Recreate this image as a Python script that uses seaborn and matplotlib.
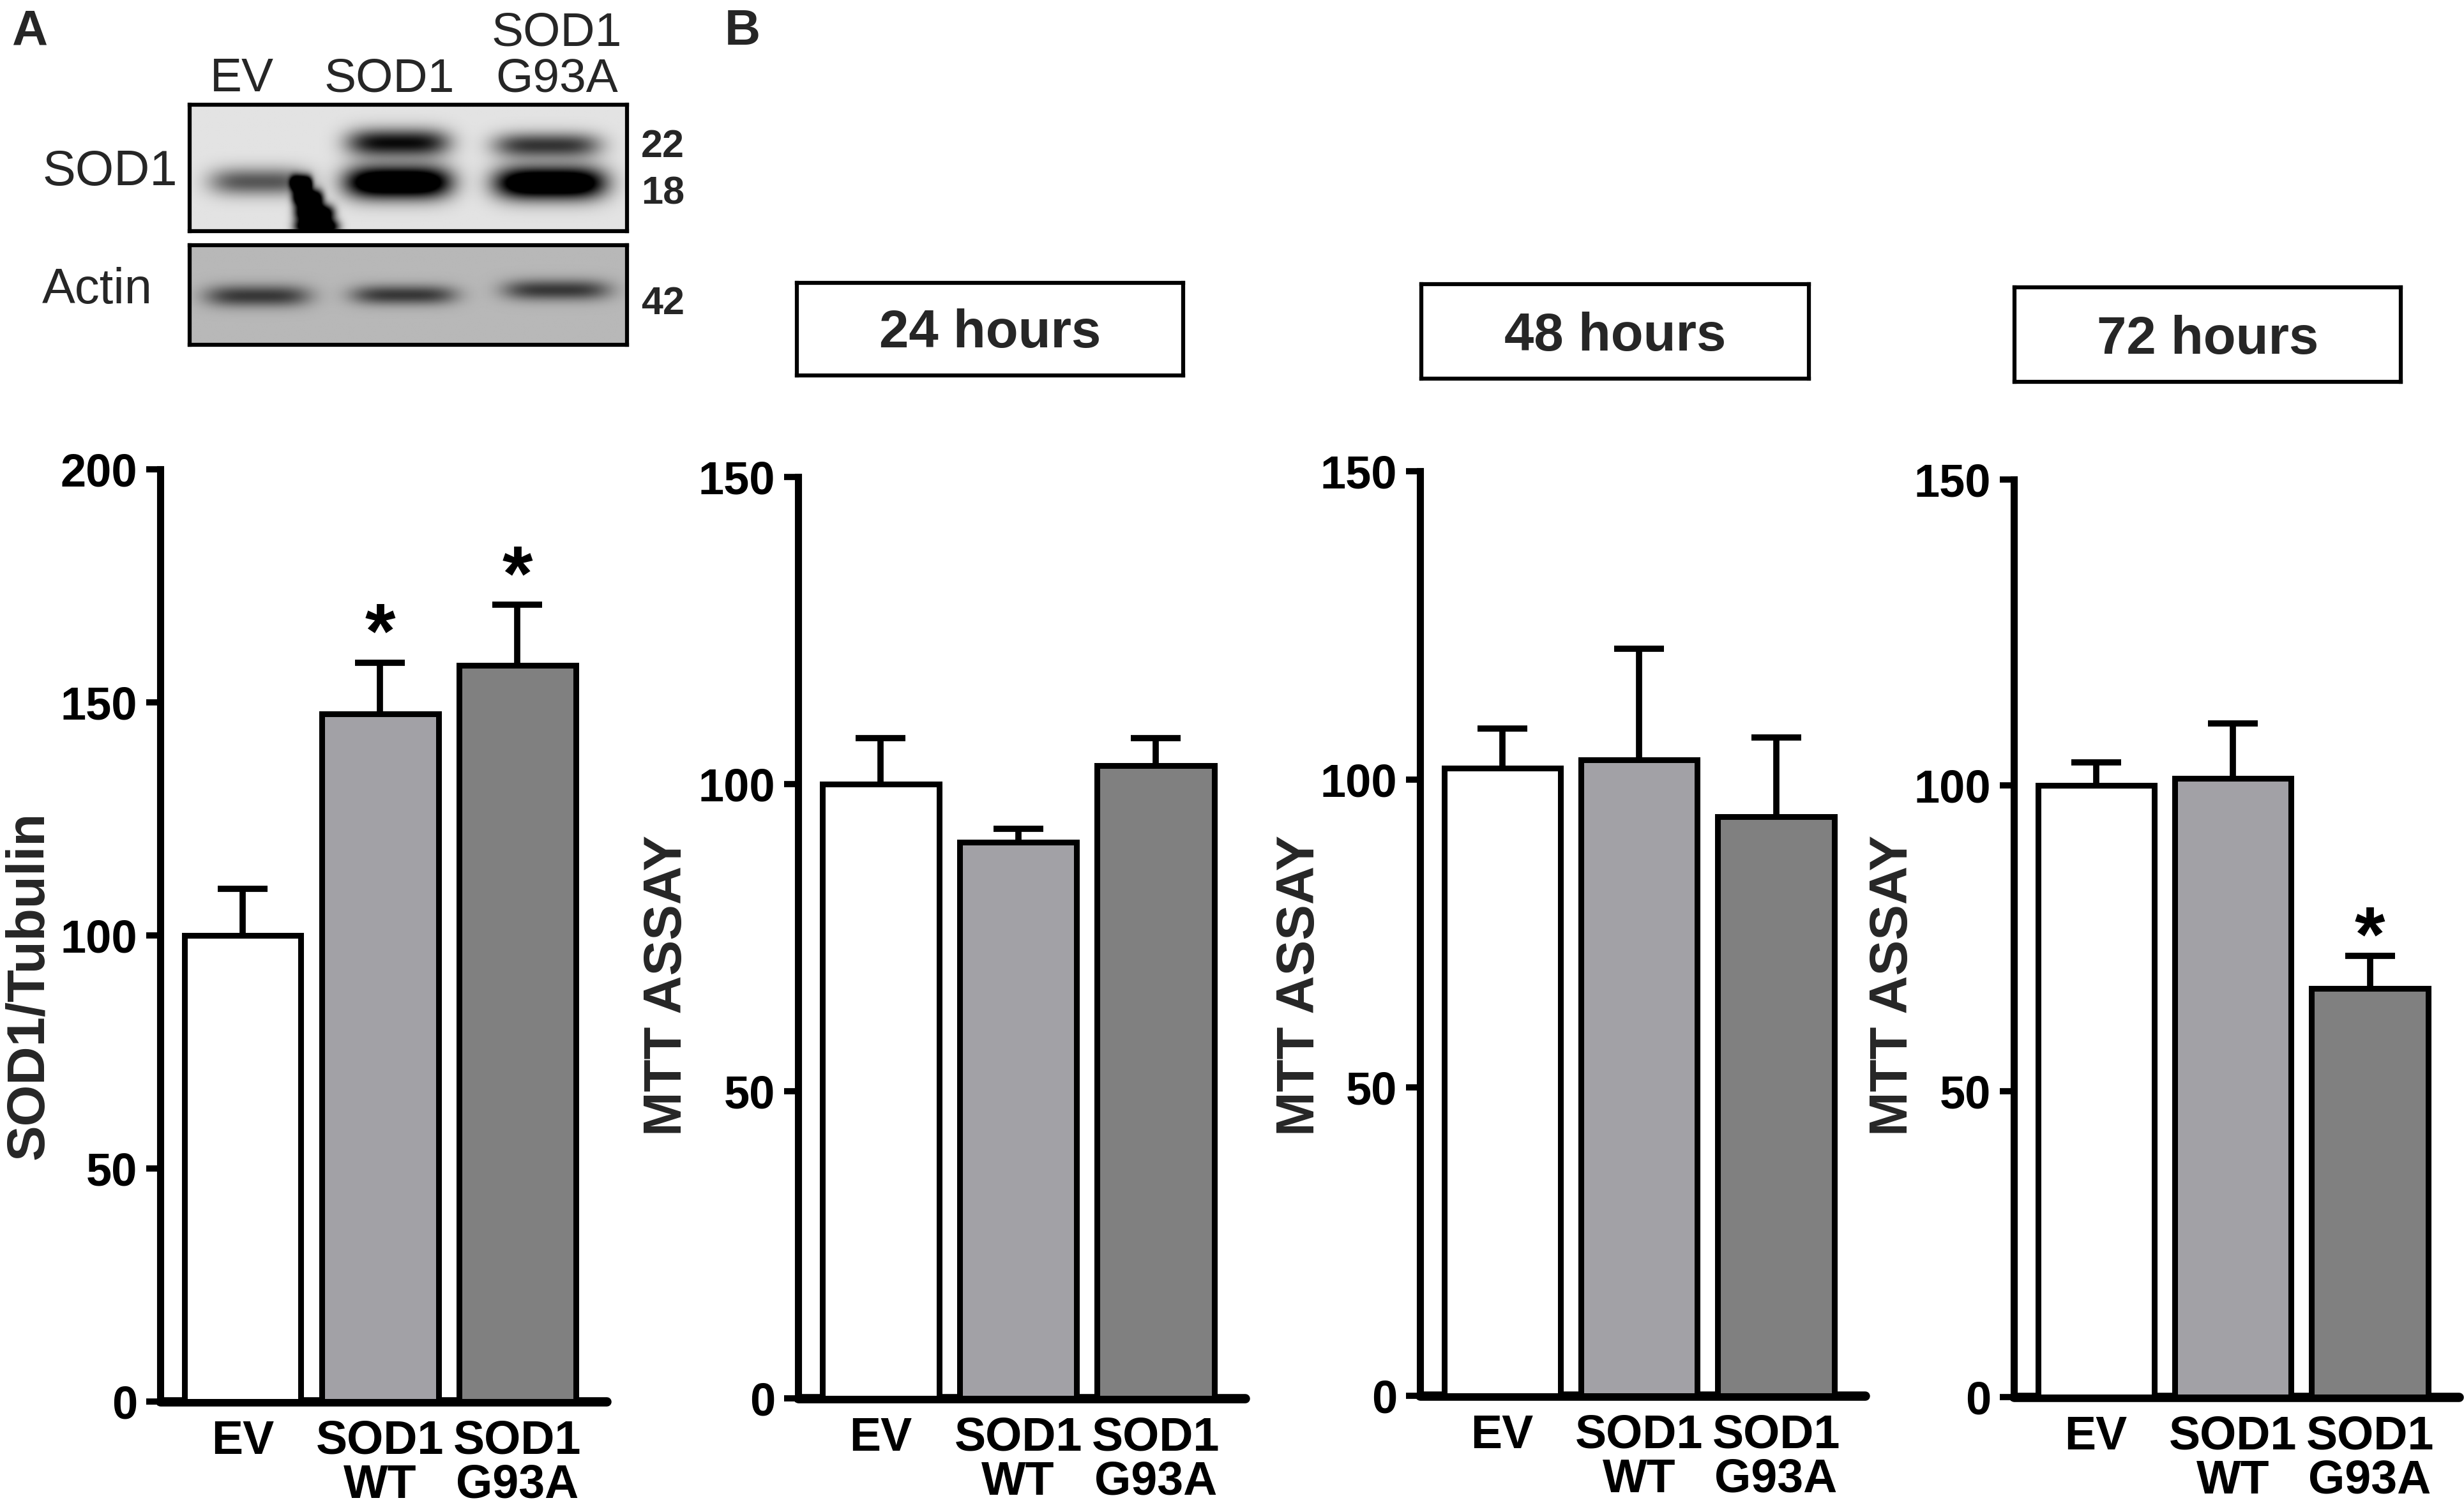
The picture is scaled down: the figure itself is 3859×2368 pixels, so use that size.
import numpy as np
import pandas as pd
import matplotlib
matplotlib.use("Agg")
import matplotlib.pyplot as plt
import seaborn as sns

sns.set_theme(style="ticks")
plt.rcParams['font.family'] = ['Liberation Sans', 'DejaVu Sans']

# --- data ---
groups = ['EV', 'SOD1\nWT', 'SOD1\nG93A']
bar_colors = ['#ffffff', '#a2a1a6', '#808080']

sod1_mean = [100.0, 147.6, 158.0]
sod1_sem = [10.0, 10.9, 12.9]
sod1_star = [False, True, True]

mtt_24_mean = [100.0, 90.5, 103.0]
mtt_24_sem = [7.5, 2.2, 4.5]
mtt_48_mean = [101.8, 103.2, 94.0]
mtt_48_sem = [6.5, 18.0, 12.8]
mtt_72_mean = [100.0, 101.1, 66.8]
mtt_72_sem = [3.8, 9.0, 5.3]
mtt_72_star = [False, False, True]

time_titles = ['24 hours', '48 hours', '72 hours']

# western blot lanes / bands (box fractions: x centre, y centre, half width, half height, darkness)
blot_lanes = ['EV', 'SOD1', 'SOD1\nG93A']
sod1_bands = [(0.16, 0.61, 0.115, 0.11, 0.55),
              (0.477, 0.30, 0.117, 0.11, 0.85),
              (0.477, 0.615, 0.122, 0.13, 1.3),
              (0.818, 0.32, 0.122, 0.10, 0.68),
              (0.825, 0.62, 0.127, 0.13, 1.3)]
sod1_smear = [(0.255, 0.62, 0.025, 0.06, 1.2), (0.27, 0.74, 0.035, 0.07, 1.3),
              (0.285, 0.86, 0.045, 0.07, 1.3), (0.29, 0.97, 0.05, 0.06, 1.3)]
actin_bands = [(0.155, 0.51, 0.12, 0.11, 0.5),
               (0.49, 0.50, 0.12, 0.10, 0.5),
               (0.84, 0.45, 0.122, 0.105, 0.5)]

W, H = 3859, 2368
fig = plt.figure(figsize=(W / 100, H / 100), dpi=100)


def px_axes(left, right, top, bottom):
    return fig.add_axes([left / W, 1 - bottom / H, (right - left) / W, (bottom - top) / H])


def px_text(x, y, s, **kw):
    return fig.text(x / W, 1 - y / H, s, **kw)


def bar_panel(ax, means, sems, stars, ymax, star_dy):
    df = pd.DataFrame({'group': groups, 'value': means})
    sns.barplot(data=df, x='group', y='value', hue='group', palette=bar_colors,
                saturation=1, width=0.85, edgecolor='black', linewidth=6.5,
                errorbar=None, legend=False, ax=ax, zorder=3)
    eb = ax.errorbar(range(len(means)), means, yerr=[np.zeros(len(sems)), sems],
                     fmt='none', ecolor='black', elinewidth=7, capsize=28,
                     capthick=7, zorder=2)
    eb[1][0].set_visible(False)
    for i, flag in enumerate(stars):
        if flag:
            ax.annotate('*', xy=(i, means[i] + sems[i]), xytext=(0, star_dy),
                        textcoords='offset points', ha='center', va='baseline',
                        fontsize=88, fontweight='bold', color='black')
    ax.set_xlim(-0.6, 2.65)
    ax.set_ylim(0, ymax)
    ax.set_yticks(np.arange(0, ymax + 1, 50))
    ax.set_xlabel('')
    ax.set_ylabel('')
    sns.despine(ax=ax)
    ax.spines['left'].set_linewidth(8)
    ax.spines['bottom'].set_linewidth(10.5)
    ax.spines['bottom'].set_capstyle('round')
    for s in ax.spines.values():
        s.set_color('black')
    ax.tick_params(axis='y', direction='out', length=16, width=7, pad=10,
                   labelsize=52, color='black', labelcolor='black')
    ax.tick_params(axis='x', length=0, pad=20, labelsize=53, labelcolor='black')
    for lbl in ax.get_xticklabels() + ax.get_yticklabels():
        lbl.set_fontweight('bold')
    for lbl in ax.get_xticklabels():
        lbl.set_linespacing(1.0)
    ax.set_facecolor('white')


# panel A bar chart
axA = px_axes(251, 950, 735, 2195)
bar_panel(axA, sod1_mean, sod1_sem, sod1_star, 200, 6)
px_text(45, 1543, 'SOD1/Tubulin', rotation=90, ha='center', va='center',
        fontsize=60, fontweight='bold')

# panel B bar charts
b_specs = [(1250, 1950, 747, 2190, mtt_24_mean, mtt_24_sem, [False] * 3, 1045),
           (2224, 2921, 738, 2186, mtt_48_mean, mtt_48_sem, [False] * 3, 2036),
           (3154, 3851, 751, 2188, mtt_72_mean, mtt_72_sem, mtt_72_star, 2965)]
for left, right, top, bottom, m, e, st, lab_x in b_specs:
    ax = px_axes(left, right, top, bottom)
    bar_panel(ax, m, e, st, 150, -5)
    px_text(lab_x, 1543, 'MTT ASSAY', rotation=90, ha='center', va='center',
            fontsize=60, fontweight='bold')

# time title boxes
boxes = [(1248, 1853, 443, 588), (2226, 2833, 445, 593), (3155, 3760, 450, 598)]
for (l, r, t, b), title in zip(boxes, time_titles):
    tax = px_axes(l, r, t, b)
    tax.set_xticks([])
    tax.set_yticks([])
    for s in tax.spines.values():
        s.set_visible(True)
        s.set_linewidth(4.5)
        s.set_color('black')
    tax.text(0.5, 0.30, title, ha='center', va='baseline', fontsize=60,
             fontweight='bold', transform=tax.transAxes)


# western blot images
def blot_image(bands, background, nx=480, ny=150):
    xx, yy = np.meshgrid(np.linspace(0, 1, nx), np.linspace(0, 1, ny))
    dark = np.zeros_like(xx)
    for cx, cy, hw, hh, amp in bands:
        dark += amp * np.exp(-(np.abs(xx - cx) / hw) ** 4 - (np.abs(yy - cy) / hh) ** 2)
    return np.clip(background - dark, 0, 1)


def blot_axes(left, right, top, bottom, img):
    bax = px_axes(left, right, top, bottom)
    bax.imshow(img, cmap='gray', vmin=0, vmax=1, extent=(0, 1, 1, 0),
               aspect='auto', interpolation='bilinear')
    bax.set_xlim(0, 1)
    bax.set_ylim(1, 0)
    bax.set_xticks([])
    bax.set_yticks([])
    for s in bax.spines.values():
        s.set_visible(True)
        s.set_linewidth(4.5)
        s.set_color('black')
    return bax


blot_axes(297, 982, 164, 362, blot_image(sod1_bands + sod1_smear, 0.89))
blot_axes(297, 982, 384, 540, blot_image(actin_bands, 0.72))

for x, lane in zip([379, 610, 872], blot_lanes):
    px_text(x, 158, lane, ha='center', va='bottom', fontsize=54, linespacing=1.05)

px_text(66, 290, 'SOD1', ha='left', va='baseline', fontsize=56)
px_text(66, 475, 'Actin', ha='left', va='baseline', fontsize=56)
for y, kda in zip([246, 320, 492], ['22', '18', '42']):
    px_text(1004, y, kda, ha='left', va='baseline', fontsize=44, fontweight='bold')

px_text(18, 70, 'A', ha='left', va='baseline', fontsize=56, fontweight='bold')
px_text(1135, 70, 'B', ha='left', va='baseline', fontsize=56, fontweight='bold')

fig.savefig('out.png', dpi=100, facecolor='white')
